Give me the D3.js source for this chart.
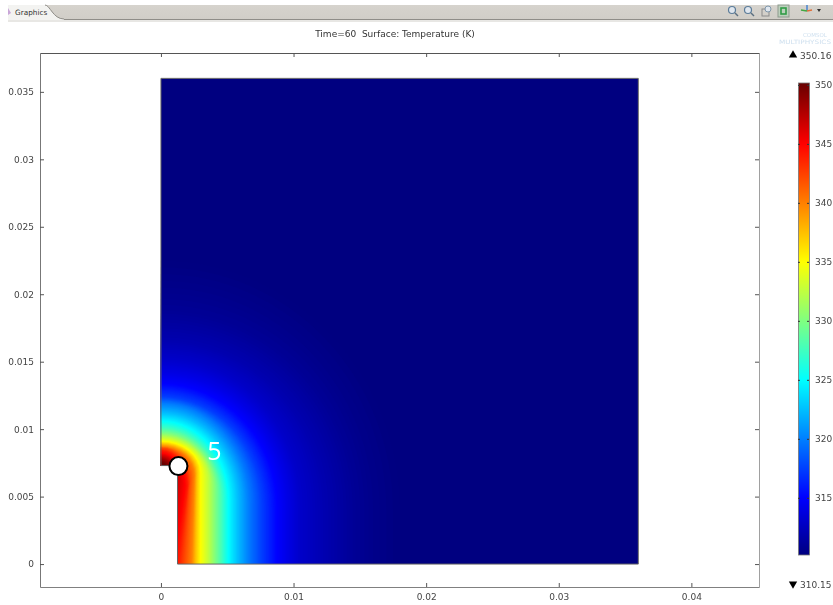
<!DOCTYPE html>
<html>
<head>
<meta charset="utf-8">
<script src="https://cdn.jsdelivr.net/npm/d3@7"></script>
<style>
  html, body { margin: 0; padding: 0; background: #fff; overflow: hidden; }
  text { font-family: "DejaVu Sans", sans-serif; fill: #444; }
</style>
</head>
<body>
<div id="chart"></div>
<script>
const w = 833;
const h = 605;

const xTicks = [0, 0.01, 0.02, 0.03, 0.04];
const yTicks = [0, 0.005, 0.01, 0.015, 0.02, 0.025, 0.03, 0.035];
const barTicks = [315, 320, 325, 330, 335, 340, 345, 350];
const tempMin = 310.15;
const tempMax = 350.16;

// colour table of the plot
const jetTemps = [310.15, 315, 325, 330, 335, 345, 350.16];
const jetColors = ["#000080", "#0000ff", "#00ffff", "#80ff80", "#ffff00", "#ff0000", "#680000"];

// outline of the solved domain, in metres
const domainX = [0, 0.036, 0.036, 0.00125, 0.00125, 0];
const domainY = [0.036, 0.036, 0, 0, 0.0073, 0.0073];

// isotherms
const isoTemp     = [310.2, 310.6, 311, 312, 313, 314, 315, 317.5, 320, 322.5, 325, 327.5, 330, 332.5, 335, 337.5, 340, 342, 344, 345, 346, 347.5, 349, 350.1];
const isoTopY     = [0.0225, 0.0205, 0.0188, 0.0166, 0.0152, 0.0142, 0.0134, 0.0124, 0.0119, 0.0112, 0.0106, 0.0101, 0.0097, 0.0094, 0.0091, 0.0089, 0.0087, 0.0086, 0.0084, 0.0082, 0.0081, 0.0079, 0.0077, 0.0075];
const isoRightX   = [0.0180, 0.0160, 0.0147, 0.0124, 0.0105, 0.0096, 0.0088, 0.0076, 0.0066, 0.0058, 0.0051, 0.0046, 0.0041, 0.0036, 0.0030, 0.0027, 0.0025, 0.0022, 0.0020, 0.0018, 0.0015, 0.0011, 0.0007, 0.0004];
const isoShoulderY = [0.0040, 0.0040, 0.0040, 0.0040, 0.0042, 0.0042, 0.0042, 0.0044, 0.0046, 0.0048, 0.0048, 0.0050, 0.0056, 0.0062, 0.0068, 0.0068, 0.0066, 0.0062, 0.0058, 0.0058, 0.0062, 0.0066, 0.0070, 0.0072];
const isoBottomX  = [0.0180, 0.0160, 0.0147, 0.0124, 0.0105, 0.0096, 0.0088, 0.0076, 0.0066, 0.0058, 0.0051, 0.0046, 0.0041, 0.0036, 0.0030, 0.0026, 0.0023, 0.0018, 0.0013, 0.0010, 0.0008, 0.0005, 0.0003, 0.0001];

const pointX = [0.00132];
const pointY = [0.00726];
const pointLabels = ["5"];

const svg = d3.select("#chart").append("svg")
  .attr("width", w)
  .attr("height", h)
  .style("display", "block")
  .style("filter", "blur(0.35px)");

const xScale = d3.scaleLinear().domain([-0.00912, 0.0451]).range([40, 759]);
const yScale = d3.scaleLinear().domain([-0.0017, 0.03788]).range([587, 53]);
const jet = d3.scaleLinear().domain(jetTemps).range(jetColors);
const barScale = d3.scaleLinear().domain([tempMin, tempMax]).range([555, 83]);

// ---- toolbar ----
const defs = svg.append("defs");
const barGrad = defs.append("linearGradient").attr("id", "toolGrad").attr("x2", 0).attr("y2", 1);
barGrad.append("stop").attr("offset", 0).attr("stop-color", "#d6d3cd");
barGrad.append("stop").attr("offset", 1).attr("stop-color", "#d0cdc7");

svg.append("rect").attr("x", 8).attr("y", 5).attr("width", w - 8).attr("height", 15).attr("fill", "url(#toolGrad)");
svg.append("rect").attr("x", 8).attr("y", 19).attr("width", w - 8).attr("height", 1).attr("fill", "#8f8d88");
svg.append("rect").attr("x", 8).attr("y", 20).attr("width", w - 8).attr("height", 2).attr("fill", "#e8e7e4");
svg.append("path").attr("d", "M8,5H45C50,5 53,19 64,19V20H8Z").attr("fill", "#f3f3f1");
svg.append("path").attr("d", "M45,5C50,5 53,19 64,19").attr("fill", "none").attr("stroke", "#8f8d88");
svg.append("path").attr("d", "M8,8L11,13L8,15Z").attr("fill", "#c9a6d8");
svg.append("text").attr("x", 15).attr("y", 15).attr("font-size", 7.3).style("fill", "#333").text("Graphics");

[733, 749].forEach(cx => {
  svg.append("circle").attr("cx", cx - 1).attr("cy", 10).attr("r", 3.5).attr("fill", "#dfe6ee").attr("stroke", "#5b7c99").attr("stroke-width", 1.2);
  svg.append("line").attr("x1", cx + 2).attr("y1", 13).attr("x2", cx + 5).attr("y2", 16).attr("stroke", "#5b6f80").attr("stroke-width", 1.4);
});
svg.append("rect").attr("x", 762).attr("y", 9).attr("width", 7).attr("height", 7).attr("fill", "none").attr("stroke", "#8a8a8a");
svg.append("circle").attr("cx", 768).attr("cy", 9).attr("r", 3).attr("fill", "#dfe6ee").attr("stroke", "#7f97ab");
svg.append("rect").attr("x", 778).attr("y", 5).attr("width", 11).attr("height", 12).attr("fill", "#bcd0bc").attr("stroke", "#8d9a8d");
svg.append("rect").attr("x", 781).attr("y", 8).attr("width", 5).attr("height", 6).attr("fill", "none").attr("stroke", "#2f9c45").attr("stroke-width", 1.6);
svg.append("line").attr("x1", 807).attr("y1", 5).attr("x2", 807).attr("y2", 11).attr("stroke", "#3d7fd0").attr("stroke-width", 1.4);
svg.append("line").attr("x1", 807).attr("y1", 11).attr("x2", 801).attr("y2", 10).attr("stroke", "#43a843").attr("stroke-width", 1.4);
svg.append("line").attr("x1", 807).attr("y1", 11).attr("x2", 812).attr("y2", 10).attr("stroke", "#e0703a").attr("stroke-width", 1.4);
svg.append("path").attr("d", "M817,9h4l-2,3Z").attr("fill", "#333");

// ---- frame and axes ----
const axisBottom = d3.axisBottom(xScale).tickValues(xTicks).tickFormat(d3.format("")).tickSizeInner(-4).tickSizeOuter(0).tickPadding(7);
const axisLeft = d3.axisLeft(yScale).tickValues(yTicks).tickFormat(d3.format("")).tickSizeInner(-4).tickSizeOuter(0).tickPadding(6);
const axisTop = d3.axisTop(xScale).tickValues(xTicks).tickFormat("").tickSizeInner(-4).tickSizeOuter(0);
const axisRight = d3.axisRight(yScale).tickValues(yTicks).tickFormat("").tickSizeInner(-4).tickSizeOuter(0);

[[axisRight, 759, 0, "#a0a0a0"], [axisBottom, 0, 587, "#808080"], [axisLeft, 40, 0, "#777"], [axisTop, 0, 53, "#555"]].forEach(a => {
  const g = svg.append("g").attr("transform", "translate(" + a[1] + "," + a[2] + ")").call(a[0]);
  g.select(".domain").attr("stroke", a[3]);
  g.selectAll(".tick line").attr("stroke", "#555");
  g.selectAll(".tick text").attr("font-size", 9).attr("font-family", "DejaVu Sans").style("fill", "#444");
});

// ---- temperature surface ----
const outline = domainX.map((d, i) => [xScale(d), yScale(domainY[i])]);
const outlineLine = d3.line().curve(d3.curveLinearClosed);

defs.append("clipPath").attr("id", "domainClip").append("path").attr("d", outlineLine(outline));

// shading between the isotherms that were read
const topAt = d3.scaleLinear().domain(isoTemp).range(isoTopY);
const rightAt = d3.scaleLinear().domain(isoTemp).range(isoRightX);
const shoulderAt = d3.scaleLinear().domain(isoTemp).range(isoShoulderY);
const bottomAt = d3.scaleLinear().domain(isoTemp).range(isoBottomX);

function isoPath(t) {
  const x0 = xScale(-0.003);
  const xa = xScale(0);
  const rx = xScale(rightAt(t)) - xa;
  const ys = yScale(shoulderAt(t));
  const ry = ys - yScale(topAt(t));
  const yb = yScale(-0.003);
  return "M" + x0 + "," + (ys - ry) + "L" + xa + "," + (ys - ry) +
    "A" + rx + "," + ry + " 0 0 1 " + (xa + rx) + "," + ys +
    "L" + xScale(bottomAt(t)) + "," + yScale(0) +
    "L" + xScale(bottomAt(t)) + "," + yb +
    "L" + x0 + "," + yb + "Z";
}

const surface = svg.append("g").attr("clip-path", "url(#domainClip)");
surface.append("rect")
  .attr("x", xScale(0)).attr("y", yScale(0.036))
  .attr("width", xScale(0.036) - xScale(0)).attr("height", yScale(0) - yScale(0.036))
  .attr("fill", jet(tempMin));

surface.selectAll("path").data(d3.range(310.2, 350.1, 0.1)).enter().append("path")
  .attr("d", isoPath).attr("fill", t => jet(t));

svg.append("path").attr("d", outlineLine(outline)).attr("fill", "none").attr("stroke", "#666").attr("stroke-width", 1);

// ---- marked point ----
svg.selectAll("circle.pt").data(pointX).enter().append("circle")
  .attr("class", "pt")
  .attr("cx", d => xScale(d))
  .attr("cy", (d, i) => yScale(pointY[i]))
  .attr("r", 9)
  .attr("fill", "#fff").attr("stroke", "#000").attr("stroke-width", 2);

svg.append("text").attr("x", 214.5).attr("y", 460).attr("text-anchor", "middle")
  .attr("font-size", 25).style("font-family", "Open Sans").style("fill", "#fff").text(pointLabels[0]);

// ---- title ----
svg.append("text").attr("x", 395).attr("y", 37).attr("text-anchor", "middle").attr("font-size", 9)
  .attr("xml:space", "preserve").style("white-space", "pre").style("fill", "#333")
  .text("Time=60  Surface: Temperature (K)");

// ---- watermark ----
svg.append("text").attr("x", 803).attr("y", 37).attr("font-size", 5.5)
  .style("fill", "#cfe0ef").text("COMSOL");
svg.append("text").attr("x", 779).attr("y", 44).attr("font-size", 6).attr("textLength", 52)
  .attr("lengthAdjust", "spacingAndGlyphs").style("fill", "#cfe0ef").text("MULTIPHYSICS");

// ---- colour bar ----
const barGradient = defs.append("linearGradient").attr("id", "barFill")
  .attr("gradientUnits", "userSpaceOnUse")
  .attr("x1", 0).attr("x2", 0).attr("y1", barScale(tempMin)).attr("y2", barScale(tempMax));
jetTemps.forEach((t, i) => {
  barGradient.append("stop")
    .attr("offset", (t - tempMin) / (tempMax - tempMin))
    .attr("stop-color", jetColors[i]);
});

svg.append("rect").attr("x", 798.5).attr("y", barScale(tempMax))
  .attr("width", 11).attr("height", barScale(tempMin) - barScale(tempMax))
  .attr("fill", "url(#barFill)").attr("stroke", "#777").attr("stroke-width", 0.8);

const barAxis = d3.axisRight(barScale).tickValues(barTicks).tickFormat(d3.format("d")).tickSizeInner(-2).tickSizeOuter(0).tickPadding(6);
const barG = svg.append("g").attr("transform", "translate(809,0)").call(barAxis);
barG.select(".domain").remove();
barG.selectAll(".tick line").attr("stroke", "#333");
barG.selectAll(".tick text").attr("font-size", 9).attr("font-family", "DejaVu Sans").style("fill", "#444");
barG.selectAll(".tick").append("line").attr("x1", -11).attr("x2", -9).attr("stroke", "#333");

const tri = d3.symbol().type(d3.symbolTriangle).size(30);
svg.append("path").attr("d", tri()).attr("transform", "translate(793,55)").attr("fill", "#000");
svg.append("path").attr("d", tri()).attr("transform", "translate(793,584) rotate(180)").attr("fill", "#000");
svg.append("text").attr("x", 800).attr("y", 58.5).attr("font-size", 9).text(tempMax.toFixed(2));
svg.append("text").attr("x", 800).attr("y", 587.5).attr("font-size", 9).text(tempMin.toFixed(2));
</script>
</body>
</html>
